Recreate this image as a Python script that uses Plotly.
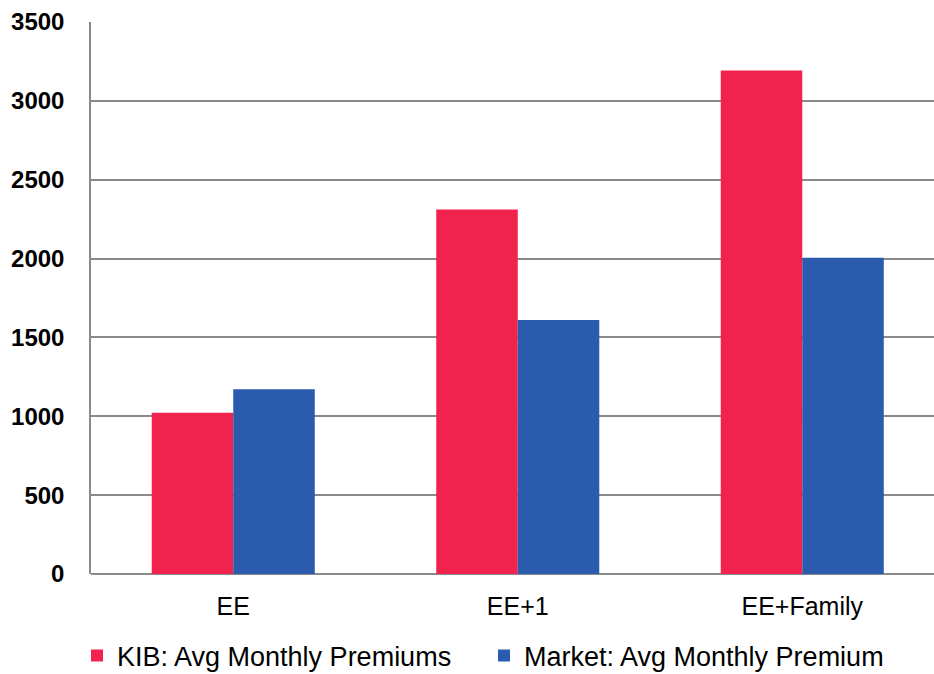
import plotly.graph_objects as go

categories = ["EE", "EE+1", "EE+Family"]
kib_values = [1023, 2311, 3193]
market_values = [1172, 1610, 2005]
y_ticks = [0, 500, 1000, 1500, 2000, 2500, 3000, 3500]

fig = go.Figure()
fig.add_trace(go.Bar(x=categories, y=kib_values, name="KIB: Avg Monthly Premiums",
                     marker=dict(color="#F2224E", line=dict(width=0))))
fig.add_trace(go.Bar(x=categories, y=market_values, name="Market: Avg Monthly Premium",
                     marker=dict(color="#2A5BAC", line=dict(width=0))))

fig.update_layout(
    width=934, height=674,
    margin=dict(l=91, r=0, t=22, b=100, autoexpand=False),
    paper_bgcolor="white", plot_bgcolor="white",
    barmode="group", bargap=0.427, bargroupgap=0,
    font=dict(family="Liberation Sans, Arial, sans-serif", color="black"),
    legend=dict(orientation="h", x=-0.0166, y=-0.104, xanchor="left", yanchor="top",
                font=dict(size=27), entrywidth=362, itemwidth=30,
                bgcolor="rgba(0,0,0,0)"),
    xaxis=dict(range=[-0.5, 2.463], showgrid=False, showline=False,
               tickfont=dict(size=25), ticks="", ticklabelstandoff=15, automargin=False),
    yaxis=dict(range=[0, 3500], tickvals=y_ticks, showgrid=True,
               gridcolor="#8a8a8a", gridwidth=1.5, showline=True,
               linecolor="#8a8a8a", linewidth=1.5, zeroline=True,
               zerolinecolor="#8a8a8a", zerolinewidth=1.5,
               tickfont=dict(size=24, family="Liberation Sans, Arial, sans-serif", weight="bold"),
               ticks="", ticklabelstandoff=20, automargin=False),
)

fig.write_html("out.html", config={"displayModeBar": False},
               post_script="document.body.style.margin='0px';document.body.style.overflow='hidden';")
